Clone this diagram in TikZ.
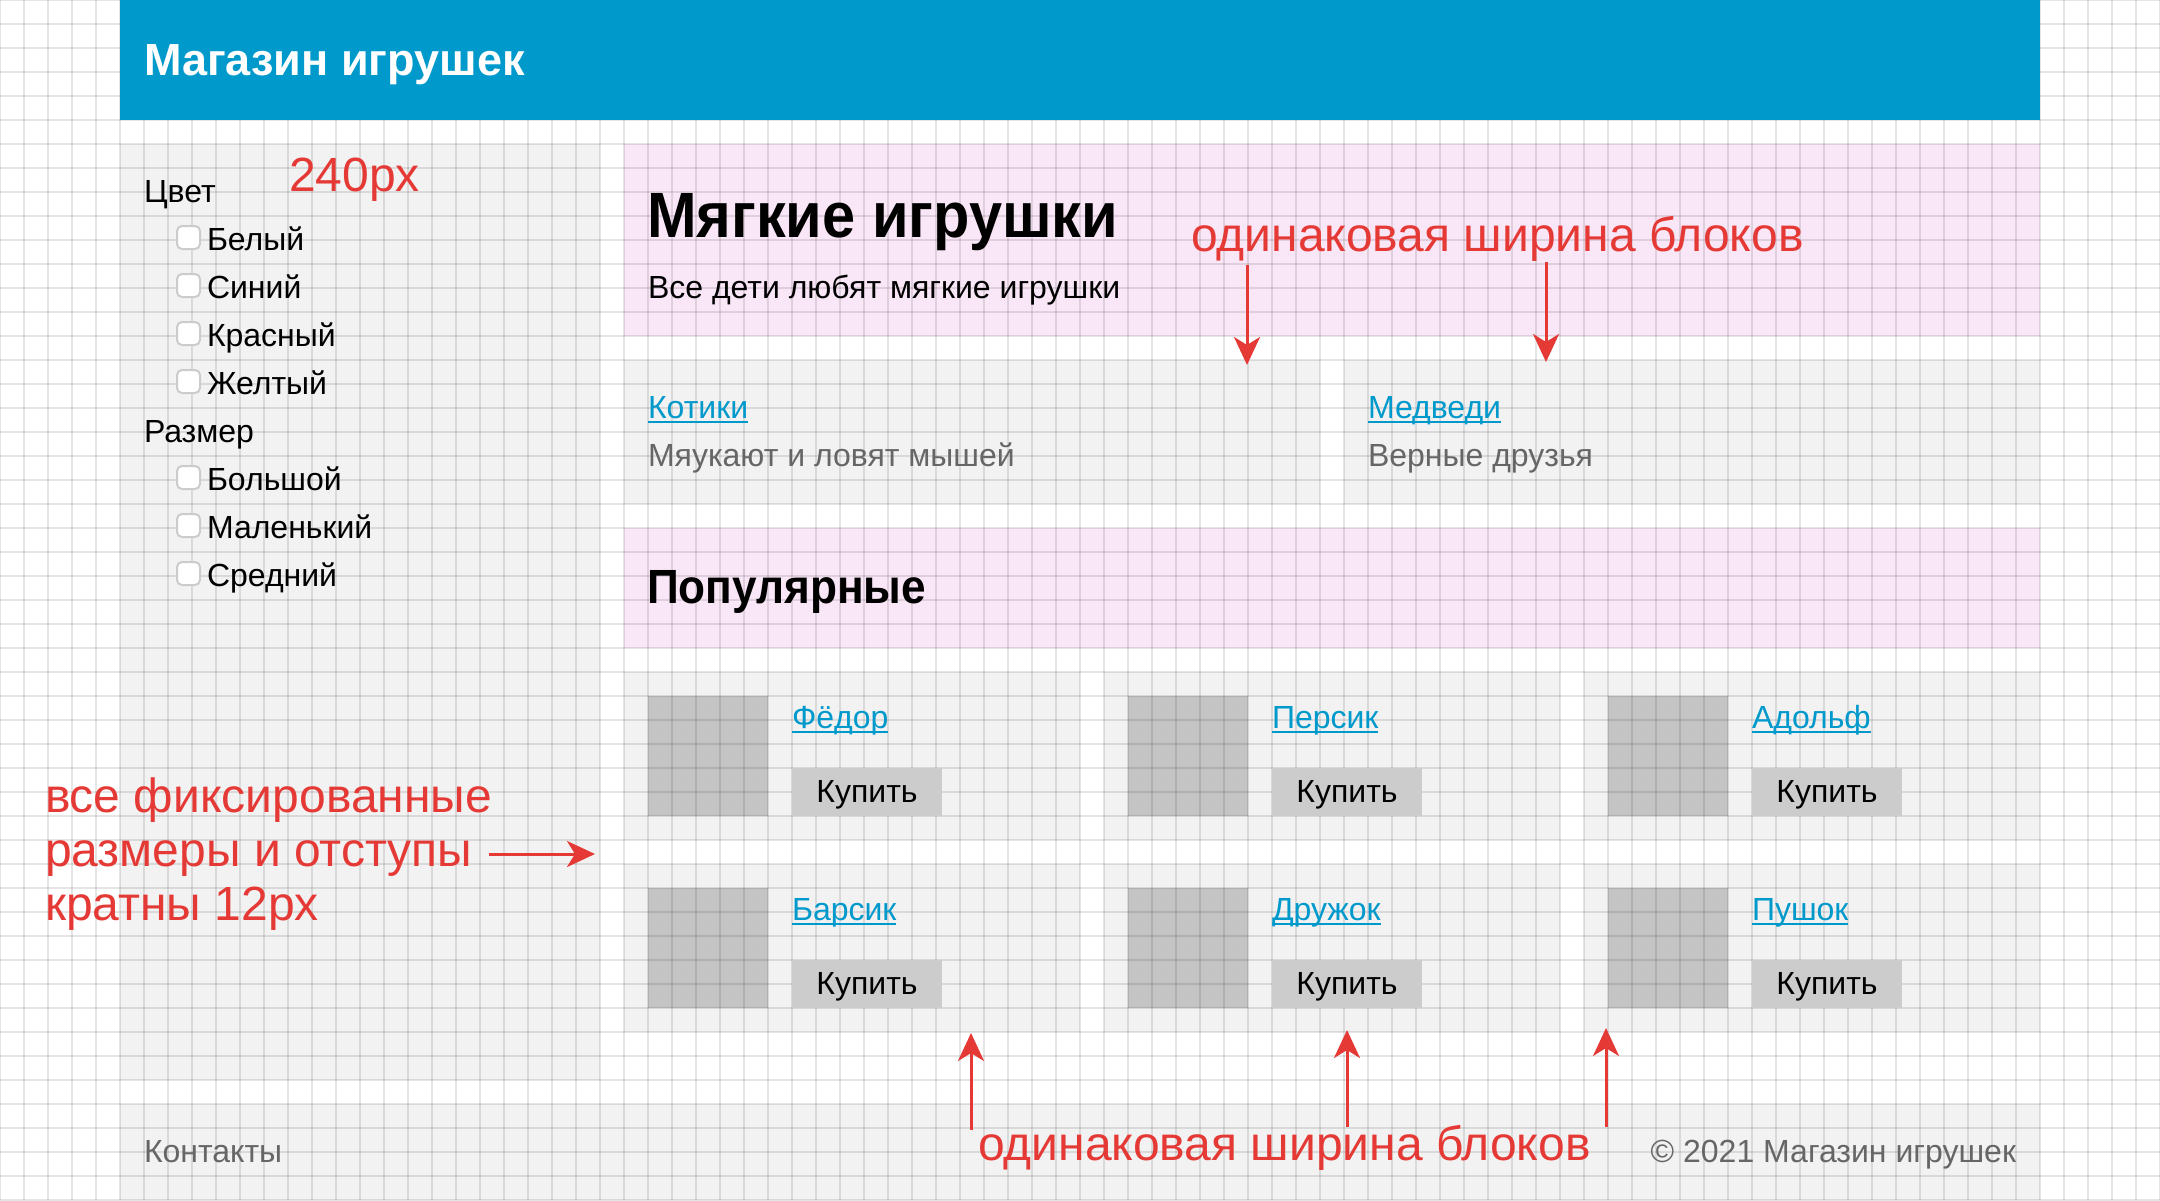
\documentclass[tikz,border=0pt]{standalone}
\usepackage{fontspec}
\setmainfont{Liberation Sans}
\newfontfamily\headfont{Liberation Sans}[FakeStretch=0.93]
\newfontfamily\subheadfont{Liberation Sans}[FakeStretch=0.92]
\usetikzlibrary{arrows.meta}
\definecolor{hdrblue}{RGB}{0,153,204}
\definecolor{lnkblue}{RGB}{0,153,204}
\definecolor{pinkbg}{RGB}{249,230,246}
\definecolor{panelgrey}{RGB}{242,242,242}
\definecolor{imggrey}{RGB}{196,196,196}
\definecolor{btngrey}{RGB}{204,204,204}
\definecolor{mutedtxt}{RGB}{102,102,102}
\definecolor{annred}{RGB}{229,57,53}
\definecolor{boxborder}{RGB}{204,204,204}
\tikzset{
  txtbase/.style={anchor=base west, inner sep=0pt, outer sep=0pt},
  body/.style={txtbase, font=\fontsize{32}{38}\selectfont},
  muted/.style={body, text=mutedtxt},
  lnk/.style={body, text=lnkblue},
  uline/.style={draw=lnkblue, line width=2pt},
  redtxt/.style={txtbase, font=\fontsize{48}{54}\selectfont, text=annred},
  annarrow/.style={draw=annred, line width=3pt, -{Stealth[length=28pt,width=26pt,inset=8pt]}},
  gridline/.style={draw=black, draw opacity=0.1, line width=1.5pt},
  panel/.style={fill=panelgrey},
  pinkpanel/.style={fill=pinkbg},
  imgbox/.style={fill=imggrey},
  btnbox/.style={fill=btngrey, inner sep=0pt, minimum width=150pt, minimum height=48pt, anchor=north west},
  chkbox/.style={fill=white, draw=boxborder, line width=2pt, rounded corners=5pt},
}
\begin{document}
\begin{tikzpicture}[x=1pt, y=-1pt]
\useasboundingbox (0,0) rectangle (2160,1200);
\fill[white] (0,0) rectangle (2160,1200);
% panels
\fill[panel] (120,144) rectangle (600,1080);
\fill[pinkpanel] (624,144) rectangle (2040,336);
\fill[panel] (624,360) rectangle (1320,504);
\fill[panel] (1344,360) rectangle (2040,504);
\fill[pinkpanel] (624,528) rectangle (2040,648);
\foreach \cx in {624,1104,1584}{
  \foreach \cy in {672,864}{
    \fill[panel] (\cx,\cy) rectangle (\cx+456,\cy+168);
    \fill[imgbox] (\cx+24,\cy+24) rectangle (\cx+144,\cy+144);
  }
}
\fill[panel] (120,1104) rectangle (2040,1200);
% grid overlay
\foreach \i in {0,...,90}{\draw[gridline] (\i*24,0) -- (\i*24,1200);}
\foreach \j in {0,...,50}{\draw[gridline] (0,\j*24) -- (2160,\j*24);}
% header
\fill[hdrblue] (120,0) rectangle (2040,120);
\node[txtbase, text=white, font=\fontsize{45}{50}\selectfont\bfseries] (title) at (144,75) {Магазин игрушек};
% sidebar
\node[body] (cvet) at (144,202) {Цвет};
\node[body] (razmer) at (144,442) {Размер};
\foreach \nm/\lab/\b in {cb1/Белый/250, cb2/Синий/298, cb3/Красный/346, cb4/Желтый/394, cb5/Большой/490, cb6/Маленький/538, cb7/Средний/586}{
  \draw[chkbox] (177,\b-24) rectangle (200,\b-1);
  \node[body] (\nm) at (207,\b) {\lab};
}
% headings
\node[txtbase, font=\headfont\fontsize{64}{72}\selectfont\bfseries] (h1) at (647,237) {Мягкие игрушки};
\node[body] (sub) at (648,298) {Все дети любят мягкие игрушки};
\node[lnk] (kot) at (648,418) {Котики};
\draw[uline] ([yshift=-4pt]kot.base west) -- ([yshift=-4pt]kot.base east);
\node[muted] (kotd) at (648,466) {Мяукают и ловят мышей};
\node[lnk] (med) at (1368,418) {Медведи};
\draw[uline] ([yshift=-4pt]med.base west) -- ([yshift=-4pt]med.base east);
\node[muted] (medd) at (1368,466) {Верные друзья};
\node[txtbase, font=\subheadfont\fontsize{48}{54}\selectfont\bfseries] (h2) at (647,603) {Популярные};
% products
\foreach \nm/\lab/\cx/\cy in {p1/Фёдор/624/672, p2/Персик/1104/672, p3/Адольф/1584/672, p4/Барсик/624/864, p5/Дружок/1104/864, p6/Пушок/1584/864}{
  \node[lnk] (\nm) at (\cx+168,\cy+56) {\lab};
  \draw[uline] ([yshift=-4pt]\nm.base west) -- ([yshift=-4pt]\nm.base east);
  \node[btnbox] (\nm b) at (\cx+168,\cy+96) {};
  \node[anchor=base, inner sep=0pt, font=\fontsize{32}{38}\selectfont] (\nm t) at (\cx+243,\cy+130) {Купить};
}
% footer
\node[muted] (kont) at (144,1162) {Контакты};
\node[muted, anchor=base east] (copy) at (2016,1162) {© 2021 Магазин игрушек};
% annotations
\node[redtxt] (a240) at (289,191) {240px};
\node[redtxt] (topnote) at (1191,251) {одинаковая ширина блоков};
\node[redtxt] (botnote) at (978,1160) {одинаковая ширина блоков};
\node[redtxt] (left1) at (45,812) {все фиксированные};
\node[redtxt] (left2) at (45,866) {размеры и отступы};
\node[redtxt] (left3) at (45,920) {кратны 12px};
\coordinate (t1s) at (1247,265); \coordinate (t1e) at (1247,365);
\coordinate (t2s) at (1546,262); \coordinate (t2e) at (1546,362);
\coordinate (b1s) at (971,1130); \coordinate (b1e) at (971,1033);
\coordinate (b2s) at (1347,1127); \coordinate (b2e) at (1347,1030);
\coordinate (b3s) at (1606,1127); \coordinate (b3e) at (1606,1028);
\coordinate (ls) at (489,854); \coordinate (le) at (595,854);
\draw[annarrow] (t1s) -- (t1e);
\draw[annarrow] (t2s) -- (t2e);
\draw[annarrow] (b1s) -- (b1e);
\draw[annarrow] (b2s) -- (b2e);
\draw[annarrow] (b3s) -- (b3e);
\draw[annarrow] (ls) -- (le);
\end{tikzpicture}
\end{document}
